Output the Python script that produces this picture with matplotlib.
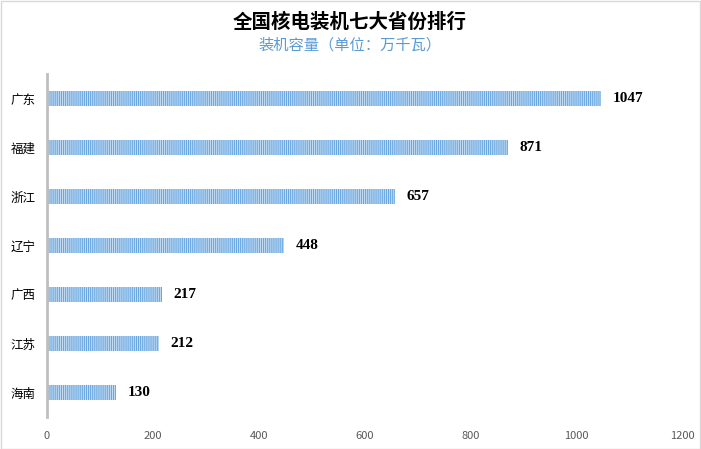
import matplotlib
matplotlib.use("Agg")
import matplotlib.pyplot as plt
from matplotlib.patches import Rectangle

plt.rcParams['font.family'] = ['Noto Sans CJK SC', 'DejaVu Sans']
plt.rcParams['hatch.linewidth'] = 0.8
plt.rcParams['hatch.color'] = '#6AA7E0'

provinces = ['广东', '福建', '浙江', '辽宁', '广西', '江苏', '海南']
capacity = [1047, 871, 657, 448, 217, 212, 130]
xticks = [0, 200, 400, 600, 800, 1000, 1200]

fig = plt.figure(figsize=(7.01, 4.49), dpi=100)
ax = fig.add_axes([47/701, 1-417/449, (682-47)/701, (417-74)/449])

ypos = list(range(len(provinces)))
ax.barh(ypos, capacity, height=0.31, color='#C8DFF5', edgecolor='#6AA7E0',
        hatch='|' * 8, linewidth=0)
for y, v in zip(ypos, capacity):
    ax.text(v + 22, y, str(v), va='center', ha='left', fontsize=11,
            fontweight='bold', family='Liberation Serif', color='black')

ax.set_xlim(0, 1200)
ax.set_ylim(6.5, -0.5)
ax.set_yticks(ypos)
ax.set_yticklabels(provinces, fontsize=9, color='black')
ax.set_xticks(xticks)
ax.set_xticklabels([str(t) for t in xticks], fontsize=8, color='#595959')
ax.tick_params(axis='both', length=0)
ax.tick_params(axis='x', pad=10)
ax.tick_params(axis='y', pad=8)
for s in ['top', 'right', 'bottom']:
    ax.spines[s].set_visible(False)
ax.spines['left'].set_color('#BFBFBF')
ax.spines['left'].set_linewidth(2)

fig.text(350/701, 1-22/449, '全国核电装机七大省份排行', ha='center', va='center',
         fontsize=14, fontweight='bold', color='black')
fig.text(350/701, 1-45/449, '装机容量（单位：万千瓦）', ha='center', va='center',
         fontsize=11, color='#5B9BD5')

fig.patches.append(Rectangle((0.5/701, 0.5/449), 1-1.5/701, 1-1.5/449,
                             transform=fig.transFigure, fill=False,
                             edgecolor='#D9D9D9', linewidth=1))

fig.savefig('out.png', dpi=100)
